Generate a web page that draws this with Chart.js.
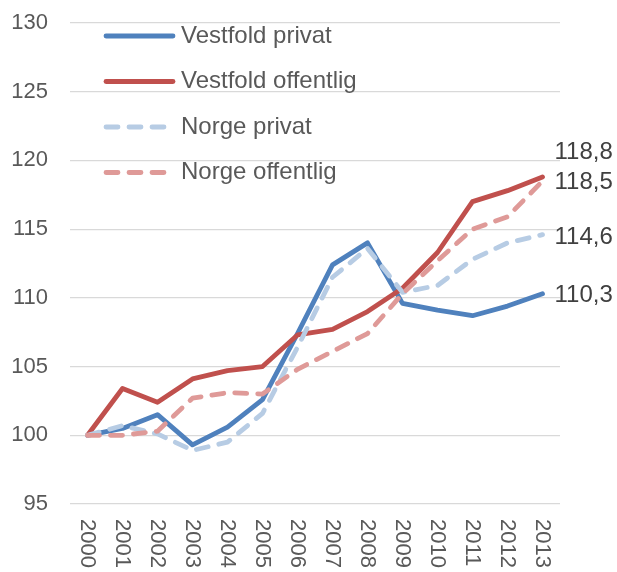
<!DOCTYPE html>
<html>
<head>
<meta charset="utf-8">
<script src="https://cdn.jsdelivr.net/npm/chart.js@4/dist/chart.umd.min.js"></script>
<style>
  html, body { margin: 0; padding: 0; background: #ffffff; }
  #wrap { width: 617px; height: 572px; }
</style>
</head>
<body>
<div id="wrap"><canvas id="c" width="617" height="572"></canvas></div>
<script>
const years = ["2000","2001","2002","2003","2004","2005","2006","2007","2008","2009","2010","2011","2012","2013"];
const seriesNames = ["Vestfold privat", "Vestfold offentlig", "Norge privat", "Norge offentlig"];
const vestfoldPrivat     = [100, 100.5, 101.5, 99.3, 100.6, 102.6, 107.4, 112.4, 114.0, 109.6, 109.1, 108.7, 109.4, 110.3];
const vestfoldOffentlig  = [100, 103.4, 102.4, 104.1, 104.7, 105.0, 107.3, 107.7, 109.0, 110.7, 113.3, 117.0, 117.8, 118.8];
const norgePrivat        = [100, 100.7, 100.1, 98.9, 99.5, 101.6, 106.4, 111.5, 113.6, 110.4, 110.9, 112.8, 114.0, 114.6];
const norgeOffentlig     = [100, 100.0, 100.3, 102.7, 103.1, 103.0, 104.8, 106.1, 107.4, 110.3, 112.7, 115.0, 115.9, 118.5];
const yTicks = [95, 100, 105, 110, 115, 120, 125, 130];

const FONT = "'Liberation Sans', Arial, sans-serif";
const TEXT = "#595959";
const colors = ["#4f81bd", "#c0504d", "#b7cce4", "#df9a98"];
const dashes = [[], [], [12, 11], [12, 11]];
const labelDy = [2, -25, 3, 1];

Chart.defaults.font.family = FONT;

const legendPlugin = {
  id: 'insideLegend',
  afterDraw(chart) {
    const ctx = chart.ctx;
    ctx.save();
    const rows = [36, 81.5, 127, 172.5];
    chart.data.datasets.forEach((ds, i) => {
      const y = rows[i];
      ctx.beginPath();
      ctx.lineWidth = 4.8;
      ctx.lineCap = 'round';
      ctx.strokeStyle = ds.borderColor;
      ctx.setLineDash(ds.borderDash || []);
      ctx.moveTo(106, y);
      ctx.lineTo(173, y);
      ctx.stroke();
      ctx.setLineDash([]);
      ctx.fillStyle = TEXT;
      ctx.font = "24px " + FONT;
      ctx.textAlign = 'left';
      ctx.textBaseline = 'middle';
      ctx.fillText(ds.label, 181, y);
    });
    ctx.restore();
  }
};

const endLabelPlugin = {
  id: 'endLabels',
  afterDatasetsDraw(chart) {
    const ctx = chart.ctx;
    ctx.save();
    ctx.font = "24px " + FONT;
    ctx.fillStyle = "#404040";
    ctx.textAlign = 'left';
    ctx.textBaseline = 'middle';
    chart.data.datasets.forEach((ds, i) => {
      const meta = chart.getDatasetMeta(i);
      const last = meta.data.length - 1;
      const pt = meta.data[last];
      const v = ds.data[last];
      const txt = v.toFixed(1).replace('.', ',');
      ctx.fillText(txt, pt.x + 12, pt.y + labelDy[i]);
    });
    ctx.restore();
  }
};

const xLabelPlugin = {
  id: 'xLabels',
  afterDraw(chart) {
    const ctx = chart.ctx;
    const xs = chart.scales.x;
    ctx.save();
    ctx.font = "22px " + FONT;
    ctx.fillStyle = TEXT;
    ctx.textAlign = 'left';
    ctx.textBaseline = 'middle';
    chart.data.labels.forEach((lab, i) => {
      const x = xs.getPixelForValue(i);
      ctx.save();
      ctx.translate(x, xs.top + 15);
      ctx.rotate(Math.PI / 2);
      ctx.fillText(lab, 0, 0);
      ctx.restore();
    });
    ctx.restore();
  }
};

const allSeries = [vestfoldPrivat, vestfoldOffentlig, norgePrivat, norgeOffentlig];
const datasets = allSeries.map((arr, i) => ({
  label: seriesNames[i],
  data: arr,
  borderColor: colors[i],
  backgroundColor: colors[i],
  borderWidth: 4.8,
  borderDash: dashes[i],
  borderCapStyle: 'round',
  borderJoinStyle: 'round',
  pointRadius: 0,
  tension: 0,
  fill: false,
  order: 4 - i
}));

new Chart(document.getElementById('c'), {
  type: 'line',
  data: { labels: years, datasets: datasets },
  options: {
    responsive: false,
    animation: false,
    devicePixelRatio: 1,
    layout: { padding: { top: 23, right: 57, left: 0, bottom: 0 } },
    plugins: {
      legend: { display: false },
      tooltip: { enabled: false }
    },
    scales: {
      x: {
        type: 'category',
        offset: true,
        grid: { display: false },
        border: { display: false },
        ticks: { display: false },
        afterFit(s) { s.height = 68; s.paddingLeft = 0; s.paddingRight = 0; }
      },
      y: {
        min: 95,
        max: 130,
        afterBuildTicks(s) { s.ticks = yTicks.map(v => ({ value: v })); },
        grid: { color: '#d9d9d9', lineWidth: 1.2, drawTicks: false },
        border: { display: false },
        ticks: {
          color: TEXT,
          font: { size: 22, family: FONT },
          padding: 22
        },
        afterFit(s) { s.width = 70; s.paddingTop = 0; s.paddingBottom = 0; }
      }
    }
  },
  plugins: [legendPlugin, endLabelPlugin, xLabelPlugin]
});
</script>
</body>
</html>
